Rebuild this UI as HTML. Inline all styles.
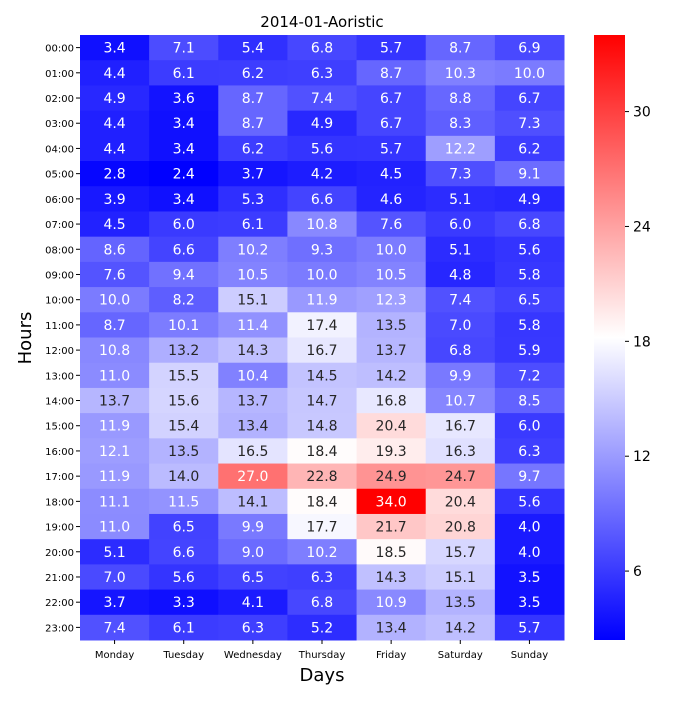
<!DOCTYPE html>
<html><head><meta charset="utf-8"><style>
body{margin:0;background:#fff;font-family:"Liberation Sans","DejaVu Sans",sans-serif}
svg text{font-family:"DejaVu Sans","Liberation Sans",sans-serif}
</style></head><body>
<svg id="chart" width="700" height="700" xmlns="http://www.w3.org/2000/svg">
<rect width="700" height="700" fill="#fff"/>
<text x="322" y="27" font-size="15" text-anchor="middle">2014-01-Aoristic</text>
<text x="322" y="681" font-size="18" text-anchor="middle">Days</text>
<text x="31" y="338" font-size="18" text-anchor="middle" transform="rotate(-90 31 338)">Hours</text>
<g id="cells"></g><g id="xt"></g><g id="yt"></g>
<defs><linearGradient id="cbg" x1="0" y1="1" x2="0" y2="0">
<stop offset="0" stop-color="#0000ff"/><stop offset="0.5" stop-color="#ffffff"/><stop offset="1" stop-color="#ff0000"/></linearGradient></defs>
<rect x="594" y="35" width="31" height="605" fill="url(#cbg)"/>
<g id="cbt"></g>
</svg>
<script>
const days=["Monday","Tuesday","Wednesday","Thursday","Friday","Saturday","Sunday"];
const hours=["00:00","01:00","02:00","03:00","04:00","05:00","06:00","07:00","08:00","09:00","10:00","11:00","12:00","13:00","14:00","15:00","16:00","17:00","18:00","19:00","20:00","21:00","22:00","23:00"];
const values=[
[3.4,7.1,5.4,6.8,5.7,8.7,6.9],
[4.4,6.1,6.2,6.3,8.7,10.3,10.0],
[4.9,3.6,8.7,7.4,6.7,8.8,6.7],
[4.4,3.4,8.7,4.9,6.7,8.3,7.3],
[4.4,3.4,6.2,5.6,5.7,12.2,6.2],
[2.8,2.4,3.7,4.2,4.5,7.3,9.1],
[3.9,3.4,5.3,6.6,4.6,5.1,4.9],
[4.5,6.0,6.1,10.8,7.6,6.0,6.8],
[8.6,6.6,10.2,9.3,10.0,5.1,5.6],
[7.6,9.4,10.5,10.0,10.5,4.8,5.8],
[10.0,8.2,15.1,11.9,12.3,7.4,6.5],
[8.7,10.1,11.4,17.4,13.5,7.0,5.8],
[10.8,13.2,14.3,16.7,13.7,6.8,5.9],
[11.0,15.5,10.4,14.5,14.2,9.9,7.2],
[13.7,15.6,13.7,14.7,16.8,10.7,8.5],
[11.9,15.4,13.4,14.8,20.4,16.7,6.0],
[12.1,13.5,16.5,18.4,19.3,16.3,6.3],
[11.9,14.0,27.0,22.8,24.9,24.7,9.7],
[11.1,11.5,14.1,18.4,34.0,20.4,5.6],
[11.0,6.5,9.9,17.7,21.7,20.8,4.0],
[5.1,6.6,9.0,10.2,18.5,15.7,4.0],
[7.0,5.6,6.5,6.3,14.3,15.1,3.5],
[3.7,3.3,4.1,6.8,10.9,13.5,3.5],
[7.4,6.1,6.3,5.2,13.4,14.2,5.7]];
const cbTicks=[6,12,18,24,30];
const vmin=2.4,vmax=34.0;
const X0=80,X1=564,Y0=35,Y1=640;
const cw=(X1-X0)/days.length,ch=(Y1-Y0)/hours.length;
const xPos=i=>X0+i*cw, yPos=j=>Y0+j*ch;
const cbY=v=>Y1-(v-vmin)/(vmax-vmin)*(Y1-Y0);
function col(v){let t=Math.max(0,Math.min(1,(v-vmin)/(vmax-vmin)));let r,g,b;
 if(t<0.5){r=g=2*t;b=1}else{r=1;g=b=2-2*t}return [r,g,b];}
function lum(c){const l=c.map(x=>x<=0.03928?x/12.92:Math.pow((x+0.055)/1.055,2.4));return 0.2126*l[0]+0.7152*l[1]+0.0722*l[2];}
const NS="http://www.w3.org/2000/svg";
function mk(tag,attrs,parent){const e=document.createElementNS(NS,tag);for(const k in attrs)e.setAttribute(k,attrs[k]);parent.appendChild(e);return e;}
const cells=document.getElementById('cells');
values.forEach((row,j)=>row.forEach((v,i)=>{
 const c=col(v);
 const r=mk('rect',{x:xPos(i),y:yPos(j),width:cw+0.5,height:ch+0.5,fill:`rgb(${Math.round(c[0]*255)},${Math.round(c[1]*255)},${Math.round(c[2]*255)})`},cells);
 
 
 const t=mk('text',{x:xPos(i)+cw/2,y:yPos(j)+ch/2+5,'font-size':14,'text-anchor':'middle',fill:lum(c)>0.408?'#262626':'#ffffff'},cells);
 t.textContent=v.toFixed(1);
 
 
}));
const xt=document.getElementById('xt');
days.forEach((d,i)=>{
 mk('line',{x1:xPos(i)+cw/2,x2:xPos(i)+cw/2,y1:Y1,y2:Y1+4,stroke:'#000'},xt);
 const t=mk('text',{x:xPos(i)+cw/2,y:Y1+18,'font-size':10,'text-anchor':'middle'},xt);t.textContent=d;
 
 
});
const yt=document.getElementById('yt');
hours.forEach((h,j)=>{
 mk('line',{x1:X0-4,x2:X0,y1:yPos(j)+ch/2,y2:yPos(j)+ch/2,stroke:'#000'},yt);
 const t=mk('text',{x:X0-6,y:yPos(j)+ch/2+4,'font-size':10,'text-anchor':'end'},yt);t.textContent=h;
 
 
});
const cbt=document.getElementById('cbt');
cbTicks.forEach(v=>{
 mk('line',{x1:625,x2:629,y1:cbY(v),y2:cbY(v),stroke:'#000'},cbt);
 const t=mk('text',{x:633,y:cbY(v)+5,'font-size':14},cbt);t.textContent=v;
 
 
});
</script>
</body></html>
